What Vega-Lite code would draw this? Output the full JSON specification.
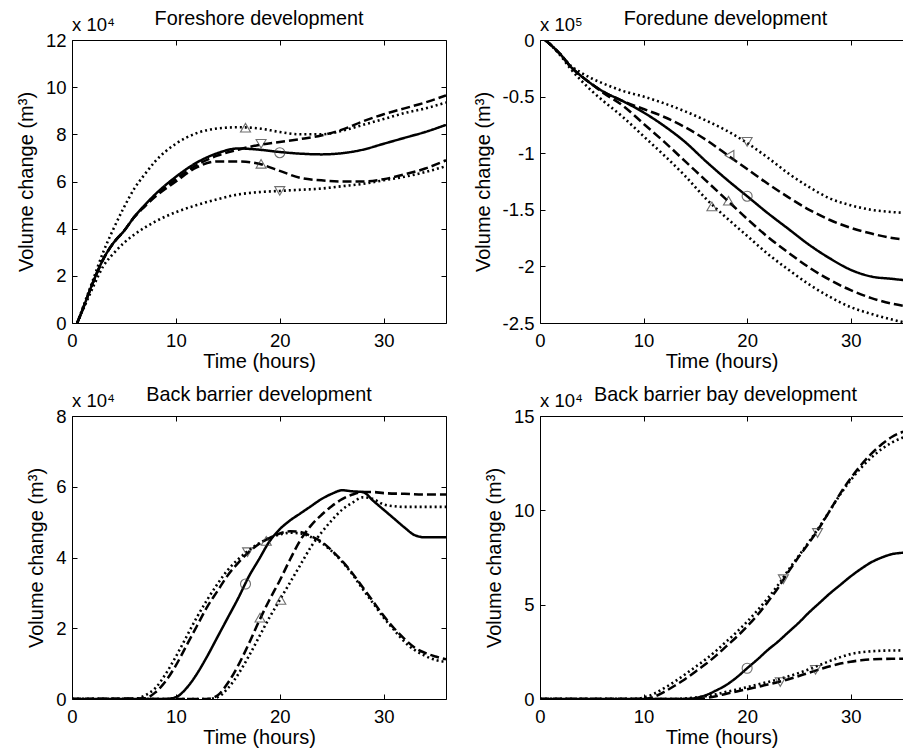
{
  "$schema": "https://vega.github.io/schema/vega-lite/v6.json",
  "background": "white",
  "padding": {"left": 16, "top": 9, "right": 0, "bottom": 0},
  "autosize": {"type": "pad"},
  "config": {
    "font": "Liberation Sans",
    "view": {"stroke": null},
    "axis": {
      "grid": false,
      "domainColor": "black",
      "domainWidth": 1,
      "tickColor": "black",
      "tickWidth": 1,
      "tickSize": -5,
      "labelColor": "black",
      "titleColor": "black",
      "labelFont": "Liberation Sans",
      "titleFont": "Liberation Sans",
      "labelFontSize": 18.5,
      "titleFontSize": 20,
      "titleFontWeight": "normal",
      "labelFlush": false,
      "labelOverlap": false
    },
    "axisX": {"labelPadding": 13, "titlePadding": 2},
    "axisY": {"labelPadding": 11, "titlePadding": 9},
    "title": {"font": "Liberation Sans", "fontSize": 19.8, "fontWeight": "normal", "color": "black", "baseline": "alphabetic", "offset": -13}
  },
  "resolve": {"scale": {"shape": "independent"}},
  "datasets": {
    "p1": [
      {"t":0.5,"v":0,"s":"mean"},{"t":1,"v":0.55,"s":"mean"},{"t":2,"v":1.7,"s":"mean"},{"t":3,"v":2.7,"s":"mean"},{"t":4,"v":3.4,"s":"mean"},{"t":5,"v":3.9,"s":"mean"},{"t":6,"v":4.5,"s":"mean"},{"t":7,"v":5.0,"s":"mean"},{"t":8,"v":5.45,"s":"mean"},{"t":10,"v":6.2,"s":"mean"},{"t":12,"v":6.8,"s":"mean"},{"t":14,"v":7.2,"s":"mean"},{"t":16,"v":7.4,"s":"mean"},{"t":18,"v":7.35,"s":"mean"},{"t":20,"v":7.25,"s":"mean"},{"t":22,"v":7.18,"s":"mean"},{"t":24,"v":7.15,"s":"mean"},{"t":26,"v":7.2,"s":"mean"},{"t":28,"v":7.35,"s":"mean"},{"t":30,"v":7.6,"s":"mean"},{"t":32,"v":7.85,"s":"mean"},{"t":34,"v":8.1,"s":"mean"},{"t":36,"v":8.4,"s":"mean"},
      {"t":0.5,"v":0,"s":"A1"},{"t":1,"v":0.55,"s":"A1"},{"t":2,"v":1.7,"s":"A1"},{"t":3,"v":2.7,"s":"A1"},{"t":4,"v":3.4,"s":"A1"},{"t":5,"v":3.9,"s":"A1"},{"t":6,"v":4.5,"s":"A1"},{"t":7,"v":4.95,"s":"A1"},{"t":8,"v":5.4,"s":"A1"},{"t":10,"v":6.1,"s":"A1"},{"t":12,"v":6.7,"s":"A1"},{"t":14,"v":7.1,"s":"A1"},{"t":16,"v":7.35,"s":"A1"},{"t":18,"v":7.55,"s":"A1"},{"t":20,"v":7.68,"s":"A1"},{"t":22,"v":7.8,"s":"A1"},{"t":24,"v":7.95,"s":"A1"},{"t":26,"v":8.2,"s":"A1"},{"t":28,"v":8.55,"s":"A1"},{"t":30,"v":8.85,"s":"A1"},{"t":32,"v":9.1,"s":"A1"},{"t":34,"v":9.35,"s":"A1"},{"t":36,"v":9.65,"s":"A1"},
      {"t":0.5,"v":0,"s":"A2"},{"t":1,"v":0.55,"s":"A2"},{"t":2,"v":1.7,"s":"A2"},{"t":3,"v":2.7,"s":"A2"},{"t":4,"v":3.4,"s":"A2"},{"t":5,"v":3.9,"s":"A2"},{"t":6,"v":4.5,"s":"A2"},{"t":7,"v":4.95,"s":"A2"},{"t":8,"v":5.35,"s":"A2"},{"t":10,"v":6.0,"s":"A2"},{"t":12,"v":6.6,"s":"A2"},{"t":14,"v":6.85,"s":"A2"},{"t":16,"v":6.85,"s":"A2"},{"t":18,"v":6.75,"s":"A2"},{"t":20,"v":6.45,"s":"A2"},{"t":22,"v":6.15,"s":"A2"},{"t":24,"v":6.05,"s":"A2"},{"t":26,"v":6.0,"s":"A2"},{"t":28,"v":6.0,"s":"A2"},{"t":30,"v":6.1,"s":"A2"},{"t":32,"v":6.3,"s":"A2"},{"t":34,"v":6.55,"s":"A2"},{"t":36,"v":6.9,"s":"A2"},
      {"t":0.5,"v":0,"s":"B1"},{"t":1,"v":0.6,"s":"B1"},{"t":2,"v":1.8,"s":"B1"},{"t":3,"v":3.0,"s":"B1"},{"t":4,"v":4.0,"s":"B1"},{"t":5,"v":4.9,"s":"B1"},{"t":6,"v":5.7,"s":"B1"},{"t":7,"v":6.3,"s":"B1"},{"t":8,"v":6.85,"s":"B1"},{"t":10,"v":7.6,"s":"B1"},{"t":12,"v":8.05,"s":"B1"},{"t":14,"v":8.25,"s":"B1"},{"t":16,"v":8.3,"s":"B1"},{"t":18,"v":8.25,"s":"B1"},{"t":20,"v":8.1,"s":"B1"},{"t":22,"v":8.0,"s":"B1"},{"t":24,"v":8.0,"s":"B1"},{"t":26,"v":8.15,"s":"B1"},{"t":28,"v":8.4,"s":"B1"},{"t":30,"v":8.65,"s":"B1"},{"t":32,"v":8.9,"s":"B1"},{"t":34,"v":9.1,"s":"B1"},{"t":36,"v":9.35,"s":"B1"},
      {"t":0.5,"v":0,"s":"B2"},{"t":1,"v":0.5,"s":"B2"},{"t":2,"v":1.5,"s":"B2"},{"t":3,"v":2.4,"s":"B2"},{"t":4,"v":2.95,"s":"B2"},{"t":5,"v":3.4,"s":"B2"},{"t":6,"v":3.75,"s":"B2"},{"t":8,"v":4.3,"s":"B2"},{"t":10,"v":4.7,"s":"B2"},{"t":12,"v":5.0,"s":"B2"},{"t":14,"v":5.25,"s":"B2"},{"t":16,"v":5.45,"s":"B2"},{"t":18,"v":5.55,"s":"B2"},{"t":20,"v":5.6,"s":"B2"},{"t":22,"v":5.65,"s":"B2"},{"t":24,"v":5.7,"s":"B2"},{"t":26,"v":5.8,"s":"B2"},{"t":28,"v":5.9,"s":"B2"},{"t":30,"v":6.05,"s":"B2"},{"t":32,"v":6.2,"s":"B2"},{"t":34,"v":6.4,"s":"B2"},{"t":36,"v":6.65,"s":"B2"}
    ],
    "m1": [
      {"t":16.7,"v":8.28,"s":"B1"},{"t":18.2,"v":7.6,"s":"A1"},{"t":20,"v":7.22,"s":"mean"},{"t":18.2,"v":6.75,"s":"A2"},{"t":20,"v":5.6,"s":"B2"}
    ],
    "p2": [
      {"t":0.5,"v":0,"s":"mean"},{"t":1,"v":-0.04,"s":"mean"},{"t":2,"v":-0.13,"s":"mean"},{"t":3,"v":-0.24,"s":"mean"},{"t":4,"v":-0.32,"s":"mean"},{"t":5,"v":-0.39,"s":"mean"},{"t":6,"v":-0.45,"s":"mean"},{"t":8,"v":-0.54,"s":"mean"},{"t":10,"v":-0.64,"s":"mean"},{"t":12,"v":-0.76,"s":"mean"},{"t":14,"v":-0.9,"s":"mean"},{"t":16,"v":-1.07,"s":"mean"},{"t":18,"v":-1.23,"s":"mean"},{"t":20,"v":-1.38,"s":"mean"},{"t":22,"v":-1.53,"s":"mean"},{"t":24,"v":-1.67,"s":"mean"},{"t":26,"v":-1.81,"s":"mean"},{"t":28,"v":-1.93,"s":"mean"},{"t":30,"v":-2.03,"s":"mean"},{"t":32,"v":-2.09,"s":"mean"},{"t":34,"v":-2.11,"s":"mean"},{"t":36,"v":-2.13,"s":"mean"},
      {"t":0.5,"v":0,"s":"A1"},{"t":1,"v":-0.04,"s":"A1"},{"t":2,"v":-0.13,"s":"A1"},{"t":3,"v":-0.24,"s":"A1"},{"t":4,"v":-0.32,"s":"A1"},{"t":5,"v":-0.39,"s":"A1"},{"t":6,"v":-0.45,"s":"A1"},{"t":8,"v":-0.54,"s":"A1"},{"t":10,"v":-0.61,"s":"A1"},{"t":12,"v":-0.68,"s":"A1"},{"t":14,"v":-0.77,"s":"A1"},{"t":16,"v":-0.88,"s":"A1"},{"t":18,"v":-1.01,"s":"A1"},{"t":20,"v":-1.14,"s":"A1"},{"t":22,"v":-1.27,"s":"A1"},{"t":24,"v":-1.39,"s":"A1"},{"t":26,"v":-1.5,"s":"A1"},{"t":28,"v":-1.59,"s":"A1"},{"t":30,"v":-1.66,"s":"A1"},{"t":32,"v":-1.71,"s":"A1"},{"t":34,"v":-1.75,"s":"A1"},{"t":36,"v":-1.77,"s":"A1"},
      {"t":0.5,"v":0,"s":"A2"},{"t":1,"v":-0.04,"s":"A2"},{"t":2,"v":-0.13,"s":"A2"},{"t":3,"v":-0.24,"s":"A2"},{"t":4,"v":-0.32,"s":"A2"},{"t":5,"v":-0.39,"s":"A2"},{"t":6,"v":-0.46,"s":"A2"},{"t":8,"v":-0.58,"s":"A2"},{"t":10,"v":-0.74,"s":"A2"},{"t":12,"v":-0.9,"s":"A2"},{"t":14,"v":-1.07,"s":"A2"},{"t":16,"v":-1.24,"s":"A2"},{"t":18,"v":-1.41,"s":"A2"},{"t":20,"v":-1.58,"s":"A2"},{"t":22,"v":-1.74,"s":"A2"},{"t":24,"v":-1.88,"s":"A2"},{"t":26,"v":-2.01,"s":"A2"},{"t":28,"v":-2.12,"s":"A2"},{"t":30,"v":-2.21,"s":"A2"},{"t":32,"v":-2.28,"s":"A2"},{"t":34,"v":-2.33,"s":"A2"},{"t":36,"v":-2.36,"s":"A2"},
      {"t":0.5,"v":0,"s":"B1"},{"t":1,"v":-0.04,"s":"B1"},{"t":2,"v":-0.13,"s":"B1"},{"t":3,"v":-0.23,"s":"B1"},{"t":4,"v":-0.29,"s":"B1"},{"t":5,"v":-0.34,"s":"B1"},{"t":6,"v":-0.38,"s":"B1"},{"t":8,"v":-0.45,"s":"B1"},{"t":10,"v":-0.5,"s":"B1"},{"t":12,"v":-0.56,"s":"B1"},{"t":14,"v":-0.63,"s":"B1"},{"t":16,"v":-0.71,"s":"B1"},{"t":18,"v":-0.8,"s":"B1"},{"t":20,"v":-0.91,"s":"B1"},{"t":22,"v":-1.04,"s":"B1"},{"t":24,"v":-1.18,"s":"B1"},{"t":26,"v":-1.3,"s":"B1"},{"t":28,"v":-1.4,"s":"B1"},{"t":30,"v":-1.46,"s":"B1"},{"t":32,"v":-1.5,"s":"B1"},{"t":34,"v":-1.52,"s":"B1"},{"t":36,"v":-1.53,"s":"B1"},
      {"t":0.5,"v":0,"s":"B2"},{"t":1,"v":-0.04,"s":"B2"},{"t":2,"v":-0.14,"s":"B2"},{"t":3,"v":-0.26,"s":"B2"},{"t":4,"v":-0.36,"s":"B2"},{"t":5,"v":-0.45,"s":"B2"},{"t":6,"v":-0.53,"s":"B2"},{"t":8,"v":-0.68,"s":"B2"},{"t":10,"v":-0.85,"s":"B2"},{"t":12,"v":-1.02,"s":"B2"},{"t":14,"v":-1.2,"s":"B2"},{"t":16,"v":-1.4,"s":"B2"},{"t":18,"v":-1.57,"s":"B2"},{"t":20,"v":-1.73,"s":"B2"},{"t":22,"v":-1.89,"s":"B2"},{"t":24,"v":-2.03,"s":"B2"},{"t":26,"v":-2.16,"s":"B2"},{"t":28,"v":-2.27,"s":"B2"},{"t":30,"v":-2.36,"s":"B2"},{"t":32,"v":-2.42,"s":"B2"},{"t":34,"v":-2.47,"s":"B2"},{"t":36,"v":-2.51,"s":"B2"}
    ],
    "m2": [
      {"t":20,"v":-0.9,"s":"B1"},{"t":18.3,"v":-1.02,"s":"A1"},{"t":20,"v":-1.38,"s":"mean"},{"t":18.2,"v":-1.42,"s":"A2"},{"t":16.6,"v":-1.47,"s":"B2"}
    ],
    "p3": [
      {"t":0,"v":0,"s":"mean"},{"t":9,"v":0,"s":"mean"},{"t":10,"v":0.05,"s":"mean"},{"t":11,"v":0.3,"s":"mean"},{"t":12,"v":0.7,"s":"mean"},{"t":13,"v":1.2,"s":"mean"},{"t":14,"v":1.75,"s":"mean"},{"t":15,"v":2.3,"s":"mean"},{"t":16,"v":2.85,"s":"mean"},{"t":17,"v":3.45,"s":"mean"},{"t":18,"v":3.95,"s":"mean"},{"t":19,"v":4.45,"s":"mean"},{"t":20,"v":4.8,"s":"mean"},{"t":21,"v":5.05,"s":"mean"},{"t":22,"v":5.25,"s":"mean"},{"t":23,"v":5.45,"s":"mean"},{"t":24,"v":5.65,"s":"mean"},{"t":25,"v":5.8,"s":"mean"},{"t":26,"v":5.9,"s":"mean"},{"t":27,"v":5.87,"s":"mean"},{"t":28,"v":5.85,"s":"mean"},{"t":29,"v":5.6,"s":"mean"},{"t":30,"v":5.35,"s":"mean"},{"t":31,"v":5.1,"s":"mean"},{"t":32,"v":4.85,"s":"mean"},{"t":33,"v":4.63,"s":"mean"},{"t":34,"v":4.57,"s":"mean"},{"t":36,"v":4.57,"s":"mean"},
      {"t":0,"v":0,"s":"A1"},{"t":7,"v":0.02,"s":"A1"},{"t":8,"v":0.18,"s":"A1"},{"t":9,"v":0.5,"s":"A1"},{"t":10,"v":0.95,"s":"A1"},{"t":11,"v":1.5,"s":"A1"},{"t":12,"v":2.05,"s":"A1"},{"t":13,"v":2.6,"s":"A1"},{"t":14,"v":3.05,"s":"A1"},{"t":15,"v":3.5,"s":"A1"},{"t":16,"v":3.85,"s":"A1"},{"t":17,"v":4.15,"s":"A1"},{"t":18,"v":4.38,"s":"A1"},{"t":19,"v":4.55,"s":"A1"},{"t":20,"v":4.68,"s":"A1"},{"t":21,"v":4.74,"s":"A1"},{"t":22,"v":4.72,"s":"A1"},{"t":23,"v":4.6,"s":"A1"},{"t":24,"v":4.45,"s":"A1"},{"t":25,"v":4.2,"s":"A1"},{"t":26,"v":3.9,"s":"A1"},{"t":27,"v":3.55,"s":"A1"},{"t":28,"v":3.15,"s":"A1"},{"t":29,"v":2.75,"s":"A1"},{"t":30,"v":2.35,"s":"A1"},{"t":31,"v":2.0,"s":"A1"},{"t":32,"v":1.7,"s":"A1"},{"t":33,"v":1.45,"s":"A1"},{"t":34,"v":1.3,"s":"A1"},{"t":35,"v":1.2,"s":"A1"},{"t":36,"v":1.12,"s":"A1"},
      {"t":0,"v":0,"s":"B1"},{"t":6,"v":0,"s":"B1"},{"t":7,"v":0.1,"s":"B1"},{"t":8,"v":0.3,"s":"B1"},{"t":9,"v":0.7,"s":"B1"},{"t":10,"v":1.2,"s":"B1"},{"t":11,"v":1.75,"s":"B1"},{"t":12,"v":2.3,"s":"B1"},{"t":13,"v":2.8,"s":"B1"},{"t":14,"v":3.25,"s":"B1"},{"t":15,"v":3.65,"s":"B1"},{"t":16,"v":3.95,"s":"B1"},{"t":17,"v":4.2,"s":"B1"},{"t":18,"v":4.4,"s":"B1"},{"t":19,"v":4.55,"s":"B1"},{"t":20,"v":4.65,"s":"B1"},{"t":21,"v":4.7,"s":"B1"},{"t":22,"v":4.68,"s":"B1"},{"t":23,"v":4.58,"s":"B1"},{"t":24,"v":4.42,"s":"B1"},{"t":25,"v":4.18,"s":"B1"},{"t":26,"v":3.88,"s":"B1"},{"t":27,"v":3.52,"s":"B1"},{"t":28,"v":3.1,"s":"B1"},{"t":29,"v":2.7,"s":"B1"},{"t":30,"v":2.3,"s":"B1"},{"t":31,"v":1.95,"s":"B1"},{"t":32,"v":1.62,"s":"B1"},{"t":33,"v":1.38,"s":"B1"},{"t":34,"v":1.22,"s":"B1"},{"t":35,"v":1.1,"s":"B1"},{"t":36,"v":1.05,"s":"B1"},
      {"t":0,"v":0,"s":"A2"},{"t":13,"v":0,"s":"A2"},{"t":14,"v":0.1,"s":"A2"},{"t":15,"v":0.45,"s":"A2"},{"t":16,"v":0.95,"s":"A2"},{"t":17,"v":1.55,"s":"A2"},{"t":18,"v":2.2,"s":"A2"},{"t":19,"v":2.8,"s":"A2"},{"t":20,"v":3.35,"s":"A2"},{"t":21,"v":3.95,"s":"A2"},{"t":22,"v":4.5,"s":"A2"},{"t":23,"v":4.9,"s":"A2"},{"t":24,"v":5.2,"s":"A2"},{"t":25,"v":5.45,"s":"A2"},{"t":26,"v":5.65,"s":"A2"},{"t":27,"v":5.78,"s":"A2"},{"t":28,"v":5.85,"s":"A2"},{"t":29,"v":5.85,"s":"A2"},{"t":30,"v":5.82,"s":"A2"},{"t":32,"v":5.8,"s":"A2"},{"t":34,"v":5.78,"s":"A2"},{"t":36,"v":5.78,"s":"A2"},
      {"t":0,"v":0,"s":"B2"},{"t":13,"v":0,"s":"B2"},{"t":14,"v":0.05,"s":"B2"},{"t":15,"v":0.3,"s":"B2"},{"t":16,"v":0.7,"s":"B2"},{"t":17,"v":1.2,"s":"B2"},{"t":18,"v":1.75,"s":"B2"},{"t":19,"v":2.3,"s":"B2"},{"t":20,"v":2.8,"s":"B2"},{"t":21,"v":3.3,"s":"B2"},{"t":22,"v":3.8,"s":"B2"},{"t":23,"v":4.3,"s":"B2"},{"t":24,"v":4.7,"s":"B2"},{"t":25,"v":5.05,"s":"B2"},{"t":26,"v":5.35,"s":"B2"},{"t":27,"v":5.55,"s":"B2"},{"t":28,"v":5.7,"s":"B2"},{"t":29,"v":5.65,"s":"B2"},{"t":30,"v":5.5,"s":"B2"},{"t":31,"v":5.45,"s":"B2"},{"t":32,"v":5.43,"s":"B2"},{"t":36,"v":5.43,"s":"B2"}
    ],
    "m3": [
      {"t":16.7,"v":3.25,"s":"mean"},{"t":16.9,"v":4.15,"s":"B1"},{"t":18.7,"v":4.47,"s":"A1"},{"t":18.1,"v":2.3,"s":"A2"},{"t":20.1,"v":2.8,"s":"B2"}
    ],
    "p4": [
      {"t":0,"v":0,"s":"mean"},{"t":14,"v":0,"s":"mean"},{"t":15,"v":0.05,"s":"mean"},{"t":16,"v":0.2,"s":"mean"},{"t":17,"v":0.45,"s":"mean"},{"t":18,"v":0.75,"s":"mean"},{"t":19,"v":1.15,"s":"mean"},{"t":20,"v":1.63,"s":"mean"},{"t":21,"v":2.1,"s":"mean"},{"t":22,"v":2.6,"s":"mean"},{"t":23,"v":3.05,"s":"mean"},{"t":24,"v":3.55,"s":"mean"},{"t":25,"v":4.05,"s":"mean"},{"t":26,"v":4.6,"s":"mean"},{"t":27,"v":5.1,"s":"mean"},{"t":28,"v":5.6,"s":"mean"},{"t":29,"v":6.05,"s":"mean"},{"t":30,"v":6.5,"s":"mean"},{"t":31,"v":6.9,"s":"mean"},{"t":32,"v":7.25,"s":"mean"},{"t":33,"v":7.5,"s":"mean"},{"t":34,"v":7.68,"s":"mean"},{"t":35,"v":7.75,"s":"mean"},{"t":36,"v":7.77,"s":"mean"},
      {"t":0,"v":0,"s":"A1"},{"t":10,"v":0,"s":"A1"},{"t":11,"v":0.12,"s":"A1"},{"t":12,"v":0.38,"s":"A1"},{"t":13,"v":0.7,"s":"A1"},{"t":14,"v":1.05,"s":"A1"},{"t":15,"v":1.45,"s":"A1"},{"t":16,"v":1.85,"s":"A1"},{"t":17,"v":2.3,"s":"A1"},{"t":18,"v":2.8,"s":"A1"},{"t":19,"v":3.3,"s":"A1"},{"t":20,"v":3.85,"s":"A1"},{"t":21,"v":4.45,"s":"A1"},{"t":22,"v":5.15,"s":"A1"},{"t":23,"v":5.9,"s":"A1"},{"t":24,"v":6.75,"s":"A1"},{"t":25,"v":7.55,"s":"A1"},{"t":26,"v":8.3,"s":"A1"},{"t":27,"v":9.1,"s":"A1"},{"t":28,"v":10.0,"s":"A1"},{"t":29,"v":10.9,"s":"A1"},{"t":30,"v":11.7,"s":"A1"},{"t":31,"v":12.4,"s":"A1"},{"t":32,"v":13.0,"s":"A1"},{"t":33,"v":13.5,"s":"A1"},{"t":34,"v":13.9,"s":"A1"},{"t":35,"v":14.15,"s":"A1"},{"t":36,"v":14.3,"s":"A1"},
      {"t":0,"v":0,"s":"B1"},{"t":9,"v":0,"s":"B1"},{"t":10,"v":0.08,"s":"B1"},{"t":11,"v":0.28,"s":"B1"},{"t":12,"v":0.58,"s":"B1"},{"t":13,"v":0.92,"s":"B1"},{"t":14,"v":1.3,"s":"B1"},{"t":15,"v":1.7,"s":"B1"},{"t":16,"v":2.1,"s":"B1"},{"t":17,"v":2.55,"s":"B1"},{"t":18,"v":3.05,"s":"B1"},{"t":19,"v":3.55,"s":"B1"},{"t":20,"v":4.1,"s":"B1"},{"t":21,"v":4.7,"s":"B1"},{"t":22,"v":5.35,"s":"B1"},{"t":23,"v":6.05,"s":"B1"},{"t":24,"v":6.85,"s":"B1"},{"t":25,"v":7.6,"s":"B1"},{"t":26,"v":8.35,"s":"B1"},{"t":27,"v":9.15,"s":"B1"},{"t":28,"v":10.0,"s":"B1"},{"t":29,"v":10.85,"s":"B1"},{"t":30,"v":11.6,"s":"B1"},{"t":31,"v":12.25,"s":"B1"},{"t":32,"v":12.8,"s":"B1"},{"t":33,"v":13.25,"s":"B1"},{"t":34,"v":13.6,"s":"B1"},{"t":35,"v":13.85,"s":"B1"},{"t":36,"v":13.98,"s":"B1"},
      {"t":0,"v":0,"s":"A2"},{"t":15,"v":0,"s":"A2"},{"t":16,"v":0.05,"s":"A2"},{"t":17,"v":0.15,"s":"A2"},{"t":18,"v":0.28,"s":"A2"},{"t":19,"v":0.4,"s":"A2"},{"t":20,"v":0.52,"s":"A2"},{"t":21,"v":0.64,"s":"A2"},{"t":22,"v":0.77,"s":"A2"},{"t":23,"v":0.9,"s":"A2"},{"t":24,"v":1.05,"s":"A2"},{"t":25,"v":1.22,"s":"A2"},{"t":26,"v":1.4,"s":"A2"},{"t":27,"v":1.57,"s":"A2"},{"t":28,"v":1.74,"s":"A2"},{"t":29,"v":1.88,"s":"A2"},{"t":30,"v":1.98,"s":"A2"},{"t":31,"v":2.05,"s":"A2"},{"t":32,"v":2.1,"s":"A2"},{"t":33,"v":2.12,"s":"A2"},{"t":34,"v":2.13,"s":"A2"},{"t":36,"v":2.13,"s":"A2"},
      {"t":0,"v":0,"s":"B2"},{"t":13,"v":0,"s":"B2"},{"t":14,"v":0.03,"s":"B2"},{"t":15,"v":0.08,"s":"B2"},{"t":16,"v":0.15,"s":"B2"},{"t":17,"v":0.25,"s":"B2"},{"t":18,"v":0.38,"s":"B2"},{"t":19,"v":0.5,"s":"B2"},{"t":20,"v":0.63,"s":"B2"},{"t":21,"v":0.77,"s":"B2"},{"t":22,"v":0.9,"s":"B2"},{"t":23,"v":1.04,"s":"B2"},{"t":24,"v":1.2,"s":"B2"},{"t":25,"v":1.38,"s":"B2"},{"t":26,"v":1.58,"s":"B2"},{"t":27,"v":1.8,"s":"B2"},{"t":28,"v":2.02,"s":"B2"},{"t":29,"v":2.22,"s":"B2"},{"t":30,"v":2.38,"s":"B2"},{"t":31,"v":2.48,"s":"B2"},{"t":32,"v":2.53,"s":"B2"},{"t":33,"v":2.56,"s":"B2"},{"t":34,"v":2.57,"s":"B2"},{"t":36,"v":2.58,"s":"B2"}
    ],
    "m4": [
      {"t":20,"v":1.63,"s":"mean"},{"t":23.5,"v":6.35,"s":"A1"},{"t":26.8,"v":8.8,"s":"B1"},{"t":23.2,"v":0.9,"s":"A2"},{"t":26.6,"v":1.55,"s":"B2"}
    ]
  },
  "columns": 2,
  "spacing": {"row": 93, "column": 94},
  "bounds": "flush",
  "concat": [
    {
      "width": 374, "height": 283,
      "title": {"text": "Foreshore development"},
      "layer": [
        {
          "data": {"name": "p1"},
          "mark": {"type": "line", "interpolate": "monotone", "clip": true, "color": "black"},
          "encoding": {
            "x": {"field": "t", "type": "quantitative", "scale": {"domain": [0, 36], "nice": false, "zero": false}, "axis": {"orient": "bottom", "values": [0, 10, 20, 30], "title": "Time (hours)"}},
            "y": {"field": "v", "type": "quantitative", "scale": {"domain": [0, 12], "nice": false}, "axis": {"orient": "left", "values": [0, 2, 4, 6, 8, 10, 12], "title": "Volume change (m³)"}},
            "detail": {"field": "s"},
            "strokeDash": {"field": "s", "type": "nominal", "scale": {"domain": ["mean", "A1", "A2", "B1", "B2"], "range": [[1, 0], [9, 4], [9, 4], [2, 3], [2, 3]]}, "legend": null},
            "strokeWidth": {"field": "s", "type": "nominal", "scale": {"domain": ["mean", "A1", "A2", "B1", "B2"], "range": [2.5, 2.6, 2.6, 2, 2]}, "legend": null}
          }
        },
        {
          "data": {"name": "m1"},
          "mark": {"type": "point", "filled": false, "size": 100, "color": "#333", "strokeWidth": 1.1},
          "encoding": {
            "x": {"field": "t", "type": "quantitative", "axis": {"orient": "top", "values": [0, 10, 20, 30], "labels": false, "title": null}},
            "y": {"field": "v", "type": "quantitative", "axis": {"orient": "right", "values": [0, 2, 4, 6, 8, 10, 12], "labels": false, "title": null}},
            "shape": {"field": "s", "type": "nominal", "scale": {"domain": ["mean", "A1", "A2", "B1", "B2"], "range": ["circle", "triangle-down", "triangle-up", "triangle-up", "triangle-down"]}, "legend": null}
          }
        },
        {
          "data": {"values": [{"label": "x 10⁴"}]},
          "mark": {"type": "text", "align": "left", "baseline": "alphabetic", "dy": -9, "fontSize": 18.5, "color": "black"},
          "encoding": {
            "x": {"datum": 0, "type": "quantitative", "axis": null},
            "y": {"datum": 12, "type": "quantitative", "axis": null},
            "text": {"field": "label"}
          }
        }
      ]
    },
    {
      "width": 363, "height": 283,
      "title": {"text": "Foredune development", "dx": 4},
      "layer": [
        {
          "data": {"name": "p2"},
          "mark": {"type": "line", "interpolate": "monotone", "clip": true, "color": "black"},
          "encoding": {
            "x": {"field": "t", "type": "quantitative", "scale": {"domain": [0, 35.05], "nice": false, "zero": false}, "axis": {"orient": "bottom", "values": [0, 10, 20, 30], "title": "Time (hours)"}},
            "y": {"field": "v", "type": "quantitative", "scale": {"domain": [-2.5, 0], "nice": false}, "axis": {"orient": "left", "values": [0, -0.5, -1, -1.5, -2, -2.5], "labelExpr": "datum.value == 0 ? '0' : '-' + format(-datum.value, '')", "title": "Volume change (m³)"}},
            "detail": {"field": "s"},
            "strokeDash": {"field": "s", "type": "nominal", "scale": {"domain": ["mean", "A1", "A2", "B1", "B2"], "range": [[1, 0], [9, 4], [9, 4], [2, 3], [2, 3]]}, "legend": null},
            "strokeWidth": {"field": "s", "type": "nominal", "scale": {"domain": ["mean", "A1", "A2", "B1", "B2"], "range": [2.5, 2.6, 2.6, 2, 2]}, "legend": null}
          }
        },
        {
          "data": {"name": "m2"},
          "mark": {"type": "point", "filled": false, "size": 100, "color": "#333", "strokeWidth": 1.1},
          "encoding": {
            "x": {"field": "t", "type": "quantitative", "axis": {"orient": "top", "values": [0, 10, 20, 30], "labels": false, "title": null}},
            "y": {"field": "v", "type": "quantitative", "axis": {"orient": "right", "domain": false, "ticks": false, "labels": false, "title": null}},
            "shape": {"field": "s", "type": "nominal", "scale": {"domain": ["mean", "A1", "A2", "B1", "B2"], "range": ["circle", "triangle-left", "triangle-up", "triangle-down", "triangle-up"]}, "legend": null}
          }
        },
        {
          "data": {"values": [{"label": "x 10⁵"}]},
          "mark": {"type": "text", "align": "left", "baseline": "alphabetic", "dy": -9, "fontSize": 18.5, "color": "black"},
          "encoding": {
            "x": {"datum": 0, "type": "quantitative", "axis": null},
            "y": {"datum": 0, "type": "quantitative", "axis": null},
            "text": {"field": "label"}
          }
        }
      ]
    },
    {
      "width": 374, "height": 283,
      "title": {"text": "Back barrier development"},
      "layer": [
        {
          "data": {"name": "p3"},
          "mark": {"type": "line", "interpolate": "monotone", "clip": true, "color": "black"},
          "encoding": {
            "x": {"field": "t", "type": "quantitative", "scale": {"domain": [0, 36], "nice": false, "zero": false}, "axis": {"orient": "bottom", "values": [0, 10, 20, 30], "title": "Time (hours)"}},
            "y": {"field": "v", "type": "quantitative", "scale": {"domain": [0, 8], "nice": false}, "axis": {"orient": "left", "values": [0, 2, 4, 6, 8], "title": "Volume change (m³)"}},
            "detail": {"field": "s"},
            "strokeDash": {"field": "s", "type": "nominal", "scale": {"domain": ["mean", "A1", "A2", "B1", "B2"], "range": [[1, 0], [9, 4], [9, 4], [2, 3], [2, 3]]}, "legend": null},
            "strokeWidth": {"field": "s", "type": "nominal", "scale": {"domain": ["mean", "A1", "A2", "B1", "B2"], "range": [2.5, 2.6, 2.6, 2, 2]}, "legend": null}
          }
        },
        {
          "data": {"name": "m3"},
          "mark": {"type": "point", "filled": false, "size": 100, "color": "#333", "strokeWidth": 1.1},
          "encoding": {
            "x": {"field": "t", "type": "quantitative", "axis": {"orient": "top", "values": [0, 10, 20, 30], "labels": false, "title": null}},
            "y": {"field": "v", "type": "quantitative", "axis": {"orient": "right", "values": [0, 2, 4, 6, 8], "labels": false, "title": null}},
            "shape": {"field": "s", "type": "nominal", "scale": {"domain": ["mean", "A1", "A2", "B1", "B2"], "range": ["circle", "triangle-up", "triangle-up", "triangle-down", "triangle-up"]}, "legend": null}
          }
        },
        {
          "data": {"values": [{"label": "x 10⁴"}]},
          "mark": {"type": "text", "align": "left", "baseline": "alphabetic", "dy": -9, "fontSize": 18.5, "color": "black"},
          "encoding": {
            "x": {"datum": 0, "type": "quantitative", "axis": null},
            "y": {"datum": 8, "type": "quantitative", "axis": null},
            "text": {"field": "label"}
          }
        }
      ]
    },
    {
      "width": 363, "height": 283,
      "title": {"text": "Back barrier bay development", "dx": 4},
      "layer": [
        {
          "data": {"name": "p4"},
          "mark": {"type": "line", "interpolate": "monotone", "clip": true, "color": "black"},
          "encoding": {
            "x": {"field": "t", "type": "quantitative", "scale": {"domain": [0, 35.05], "nice": false, "zero": false}, "axis": {"orient": "bottom", "values": [0, 10, 20, 30], "title": "Time (hours)"}},
            "y": {"field": "v", "type": "quantitative", "scale": {"domain": [0, 15], "nice": false}, "axis": {"orient": "left", "values": [0, 5, 10, 15], "title": "Volume change (m³)"}},
            "detail": {"field": "s"},
            "strokeDash": {"field": "s", "type": "nominal", "scale": {"domain": ["mean", "A1", "A2", "B1", "B2"], "range": [[1, 0], [9, 4], [9, 4], [2, 3], [2, 3]]}, "legend": null},
            "strokeWidth": {"field": "s", "type": "nominal", "scale": {"domain": ["mean", "A1", "A2", "B1", "B2"], "range": [2.5, 2.6, 2.6, 2, 2]}, "legend": null}
          }
        },
        {
          "data": {"name": "m4"},
          "mark": {"type": "point", "filled": false, "size": 100, "color": "#333", "strokeWidth": 1.1},
          "encoding": {
            "x": {"field": "t", "type": "quantitative", "axis": {"orient": "top", "values": [0, 10, 20, 30], "labels": false, "title": null}},
            "y": {"field": "v", "type": "quantitative", "axis": {"orient": "right", "domain": false, "ticks": false, "labels": false, "title": null}},
            "shape": {"field": "s", "type": "nominal", "scale": {"domain": ["mean", "A1", "A2", "B1", "B2"], "range": ["circle", "triangle-down", "triangle-down", "triangle-down", "triangle-down"]}, "legend": null}
          }
        },
        {
          "data": {"values": [{"label": "x 10⁴"}]},
          "mark": {"type": "text", "align": "left", "baseline": "alphabetic", "dy": -9, "fontSize": 18.5, "color": "black"},
          "encoding": {
            "x": {"datum": 0, "type": "quantitative", "axis": null},
            "y": {"datum": 15, "type": "quantitative", "axis": null},
            "text": {"field": "label"}
          }
        }
      ]
    }
  ]
}
